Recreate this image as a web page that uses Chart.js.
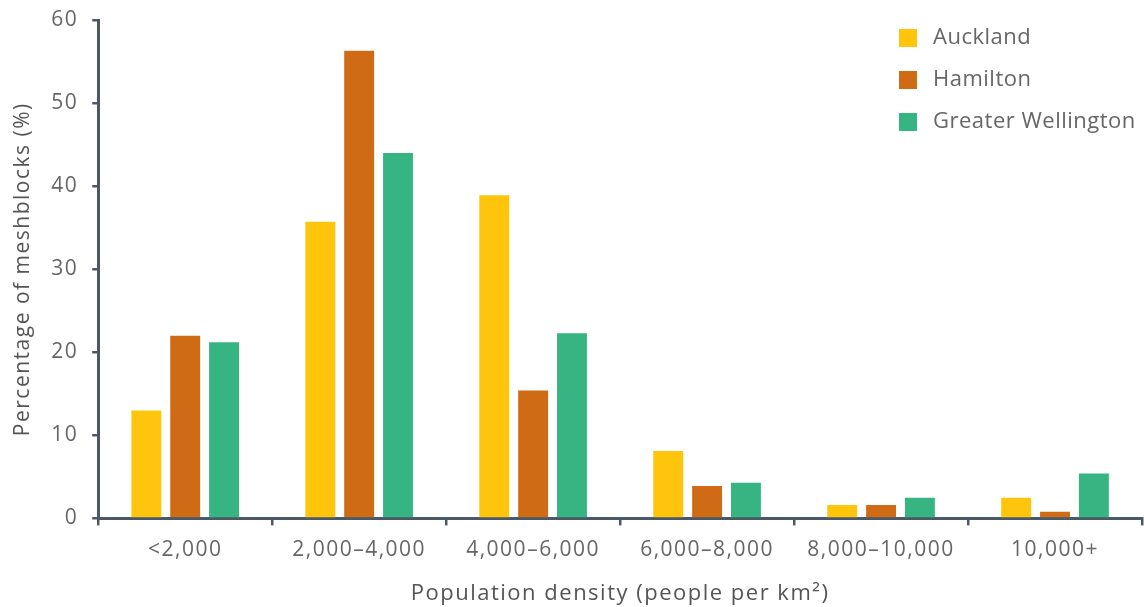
<!DOCTYPE html>
<html><head><meta charset="utf-8">
<script src="https://cdn.jsdelivr.net/npm/chart.js@4/dist/chart.umd.min.js"></script>
<style>html,body{margin:0;padding:0;background:#fff}#wrap{width:1144px;height:607px}</style>
</head><body><div id="wrap"><canvas id="c"></canvas></div>
<script>
const categories = ["<2,000", "2,000–4,000", "4,000–6,000", "6,000–8,000", "8,000–10,000", "10,000+"];
const auckland = [13.0, 35.7, 38.9, 8.1, 1.6, 2.5];
const hamilton = [22.0, 56.3, 15.4, 3.9, 1.6, 0.8];
const wellington = [21.2, 44.0, 22.3, 4.3, 2.5, 5.4];
const seriesNames = ["Auckland", "Hamilton", "Greater Wellington"];
const yTicks = [0, 10, 20, 30, 40, 50, 60];

const FONT = "'Open Sans', sans-serif";
const axisColor = "#4b5966";
const SPACING = '1.5px';

const spacingPlugin = {
  id: 'spacing',
  beforeLayout(chart) { chart.ctx.letterSpacing = SPACING; },
  beforeDraw(chart) { chart.ctx.letterSpacing = SPACING; }
};

const customLegend = {
  id: 'customLegend',
  afterDraw(chart) {
    const ctx = chart.ctx;
    ctx.save();
    ctx.letterSpacing = '0.5px';
    ctx.font = "22px " + FONT;
    ctx.textBaseline = 'middle';
    chart.data.datasets.forEach((ds, i) => {
      const y = 38 + i * 42;
      ctx.fillStyle = ds.backgroundColor;
      ctx.fillRect(899, y - 9, 18, 18);
      ctx.fillStyle = '#666';
      ctx.fillText(ds.label, 933, y);
    });
    ctx.restore();
  }
};

new Chart(document.getElementById('c'), {
  type: 'bar',
  data: {
    labels: categories,
    datasets: [
      { label: seriesNames[0], data: auckland, backgroundColor: '#FFC50D' },
      { label: seriesNames[1], data: hamilton, backgroundColor: '#D06B15' },
      { label: seriesNames[2], data: wellington, backgroundColor: '#36B582' }
    ]
  },
  options: {
    responsive: true,
    maintainAspectRatio: false,
    animation: false,
    layout: { padding: { top: 0, right: 2, left: 10, bottom: 0 } },
    datasets: { bar: { categoryPercentage: 0.67, barPercentage: 0.77 } },
    plugins: { legend: { display: false }, tooltip: { enabled: false } },
    scales: {
      x: {
        offset: true,
        grid: { offset: true, drawOnChartArea: false, drawTicks: true, tickLength: 7, color: axisColor, lineWidth: 2.5 },
        border: { display: true, color: axisColor, width: 3 },
        ticks: { color: '#666', font: { family: FONT, size: 21 }, padding: 12 },
        title: { display: true, text: 'Population density (people per km²)', color: '#555', font: { family: FONT, size: 22 }, padding: { top: 6, bottom: 0 } }
      },
      y: {
        min: 0, max: 60,
        afterBuildTicks(scale) { scale.ticks = yTicks.map(v => ({ value: v })); },
        afterFit(scale) { scale.paddingTop = 20; },
        grid: { drawOnChartArea: false, drawTicks: true, tickLength: 6, color: axisColor, lineWidth: 2.5 },
        border: { display: true, color: axisColor, width: 3 },
        ticks: { color: '#666', font: { family: FONT, size: 21 }, padding: 14 },
        title: { display: true, text: 'Percentage of meshblocks (%)', color: '#555', font: { family: FONT, size: 21 }, padding: { top: 0, bottom: 2 } }
      }
    }
  },
  plugins: [spacingPlugin, customLegend]
});
</script></body></html>
